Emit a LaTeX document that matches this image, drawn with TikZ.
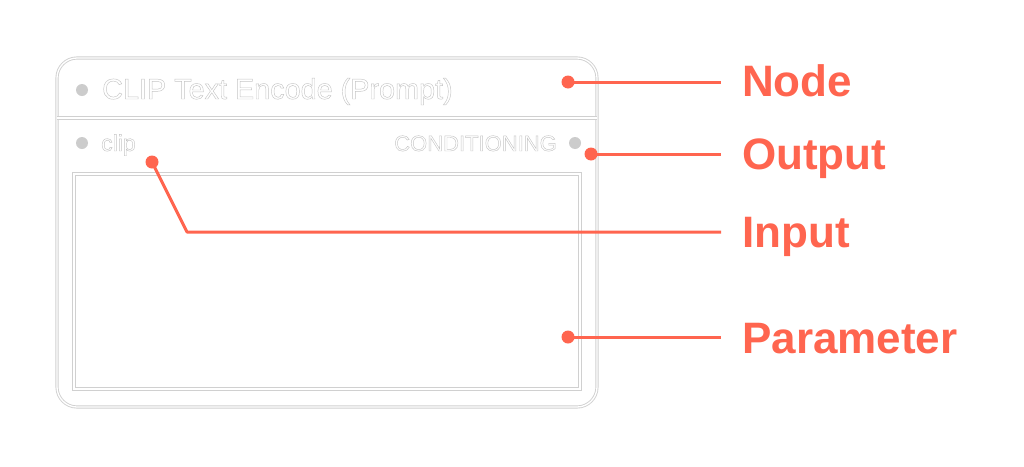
\documentclass[tikz,border=0pt]{standalone}
\usepackage{fontspec}
\setmainfont{Liberation Sans}
\definecolor{accent}{RGB}{255,101,79}
\definecolor{boxgray}{RGB}{208,208,208}
\definecolor{dotgray}{RGB}{204,204,204}
\definecolor{txtgray}{RGB}{196,196,196}
\newcommand{\outlinetext}[1]{\special{pdf:literal direct 1 Tr 0.45 w}#1\special{pdf:literal direct 0 Tr}}
\tikzset{
  frameline/.style={draw=boxgray, line width=0.9pt, double=white, double distance=1.3pt},
  graydot/.style={circle, fill=dotgray, inner sep=0pt, minimum size=12pt},
  reddot/.style={circle, fill=accent, inner sep=0pt, minimum size=13pt},
  redline/.style={draw=accent, line width=3pt},
  graytext/.style={text=txtgray, inner sep=0pt},
  label/.style={text=accent, inner sep=0pt, anchor=base west, font=\fontsize{44}{48}\selectfont\bfseries},
}
\begin{document}
\begin{tikzpicture}[x=1pt, y=-1pt]
\useasboundingbox (0,0) rectangle (1024,466);
% node frame
\draw[frameline, rounded corners=20pt] (57,58) rectangle (597,407);
\draw[frameline] (57,118) -- (597,118);
\draw[frameline] (74,174) rectangle (580,389);
% gray dots and texts
\node[graydot] (titledot) at (82,90) {};
\node[graytext, anchor=base west, font=\fontsize{28.8}{30}\selectfont] (title) at (102,99) {\outlinetext{CLIP Text Encode (Prompt)}};
\node[graydot] (indot) at (82,143) {};
\node[graytext, anchor=base west, font=\fontsize{23}{25}\selectfont] (intext) at (101,151) {\outlinetext{clip}};
\node[graydot] (outdot) at (575,143) {};
\node[graytext, anchor=base east, font=\fontsize{22}{24}\selectfont] (outtext) at (557,151) {\outlinetext{CONDITIONING}};
% annotations
\node[reddot] (dNode) at (568,82) {};
\node[reddot] (dOutput) at (591,154) {};
\node[reddot] (dInput) at (152,162) {};
\node[reddot] (dParam) at (568,337) {};
\coordinate (eNode) at (721,82);
\coordinate (eOutput) at (721,154);
\coordinate (kInput) at (187,232);
\coordinate (eInput) at (721,232);
\coordinate (eParam) at (721,337);
\draw[redline] (dNode.center) -- (eNode);
\draw[redline] (dOutput.center) -- (eOutput);
\draw[redline, line join=round] (dInput.center) -- (kInput) -- (eInput);
\draw[redline] (dParam.center) -- (eParam);
\node[label] (lNode) at (742,96) {Node};
\node[label] (lOutput) at (742,169) {Output};
\node[label] (lInput) at (742,247) {Input};
\node[label] (lParam) at (742,353) {Parameter};
\end{tikzpicture}
\end{document}
